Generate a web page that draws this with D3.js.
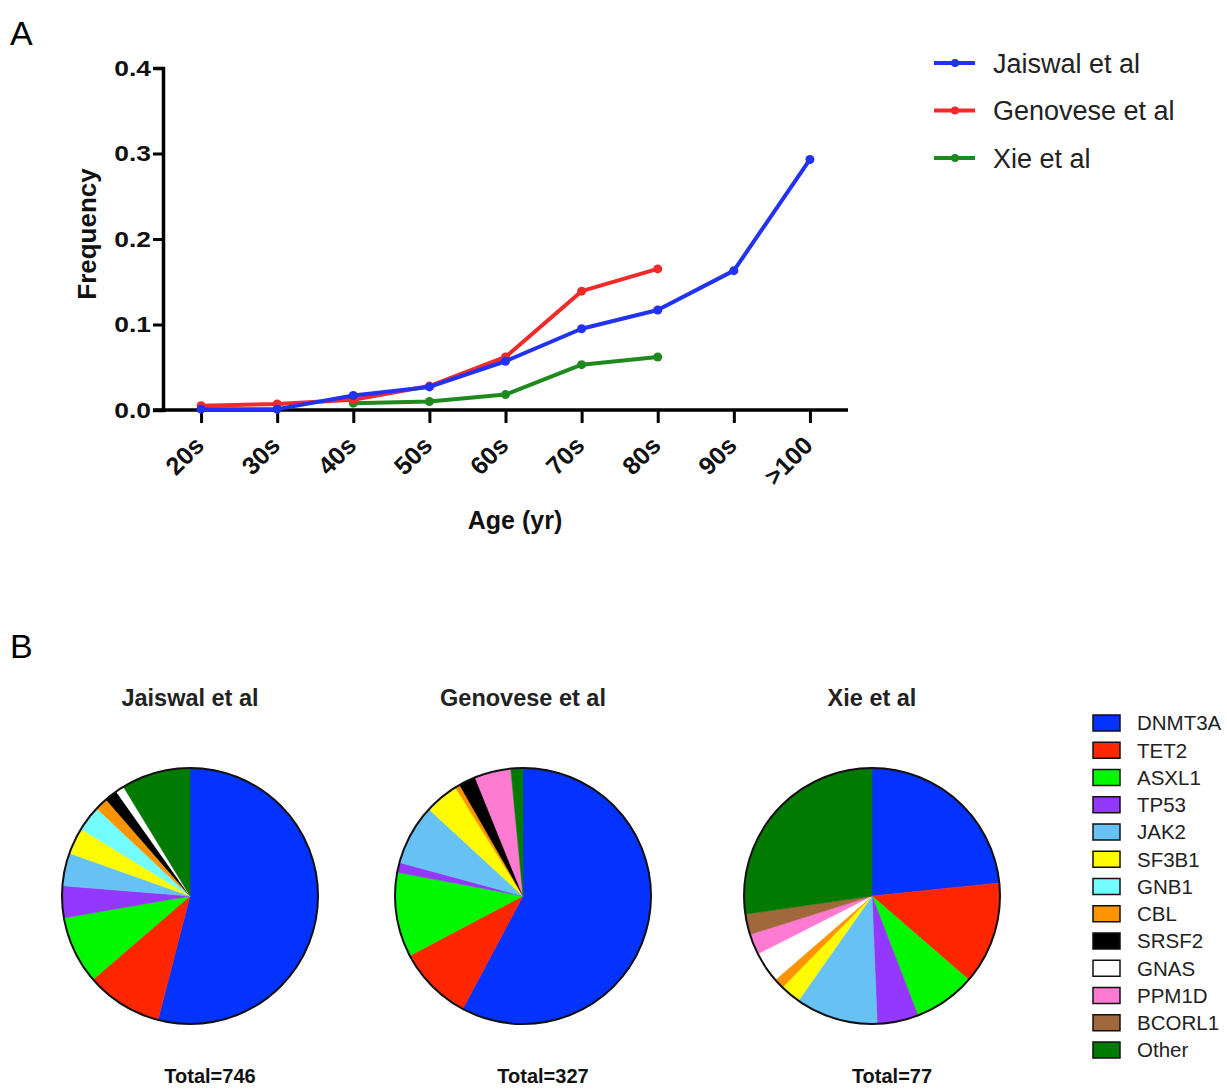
<!DOCTYPE html>
<html>
<head>
<meta charset="utf-8">
<script src="https://cdn.jsdelivr.net/npm/d3@7"></script>
<style>
  body { margin: 0; background: #fff; }
  svg { font-family: 'Liberation Sans', Arial, sans-serif; }
</style>
</head>
<body>
<svg width="1227" height="1090"></svg>
<script>
(function (d3) {
    'use strict';

    // panel A data
    const ageGroups = ['20s', '30s', '40s', '50s', '60s', '70s', '80s', '90s', '>100'];
    const studies = ['Jaiswal et al', 'Genovese et al', 'Xie et al'];
    const jaiswalFreq = [0.001, 0.001, 0.017, 0.027, 0.057, 0.095, 0.117, 0.163, 0.293];
    const genoveseFreq = [0.005, 0.007, 0.012, 0.028, 0.062, 0.139, 0.165, null, null];
    const xieFreq = [null, null, 0.008, 0.010, 0.018, 0.053, 0.062, null, null];
    const yTicks = [0, 0.1, 0.2, 0.3, 0.4];

    // panel B data
    const genes = ['DNMT3A', 'TET2', 'ASXL1', 'TP53', 'JAK2', 'SF3B1', 'GNB1',
                   'CBL', 'SRSF2', 'GNAS', 'PPM1D', 'BCORL1', 'Other'];
    const jaiswalCounts = [403, 72, 64, 30, 31, 25, 24, 12, 12, 8, 0, 0, 65];
    const genoveseCounts = [189, 31, 35, 4, 25, 14, 0, 2, 7, 0, 15, 0, 5];
    const xieCounts = [18, 10, 6, 4, 8, 2, 0, 1, 0, 3, 2, 2, 21];
    const totals = [746, 327, 77];

    const svg = d3.select('svg');

    const lineColors = ['#2232f2', '#f22a2a', '#1e8a1e'];
    const geneColors = ['#0433ff', '#ff2600', '#00f900', '#9437ff', '#66c2f5', '#fffb00',
                        '#73fdff', '#ff9300', '#000000', '#ffffff', '#ff7ad0', '#a0693c', '#007a00'];

    // panel letters
    svg.append('text').attr('x', 10).attr('y', 45)
        .style('font-size', '34px').text('A');
    svg.append('text').attr('x', 10).attr('y', 658)
        .style('font-size', '34px').text('B');

    // ---------- line chart ----------
    const renderLines = () => {
        const left = 163, right = 848, top = 68, bottom = 410;

        const xScale = d3.scalePoint()
            .domain(ageGroups)
            .range([left, right])
            .padding(0.5);

        const yScale = d3.scaleLinear()
            .domain([0, 0.4])
            .range([bottom, top]);

        const g = svg.append('g');

        const yAxis = d3.axisLeft(yScale)
            .tickValues(yTicks)
            .tickFormat(d3.format('.1f'))
            .tickSize(10)
            .tickPadding(2);
        const yG = g.append('g')
            .attr('transform', `translate(${left},0)`)
            .call(yAxis);

        const xAxis = d3.axisBottom(xScale)
            .tickSize(13)
            .tickSizeOuter(0);
        const xG = g.append('g')
            .attr('transform', `translate(0,${bottom})`)
            .call(xAxis);
        xG.select('.domain').attr('d', `M${left - 10},0H${right}`);

        [yG, xG].forEach(a => {
            a.select('.domain').attr('stroke', '#000').attr('stroke-width', 3.5);
            a.selectAll('.tick line').attr('stroke', '#000').attr('stroke-width', 3);
            a.selectAll('.tick text')
                .attr('fill', '#111')
                .style('font-weight', 'bold');
        });

        // y tick labels are a bit wide in the original figure
        yG.selectAll('.tick text')
            .style('font-size', '22px')
            .attr('x', 0)
            .attr('transform', 'translate(-12,0) scale(1.2,1)');

        xG.selectAll('.tick text')
            .style('font-size', '25px')
            .attr('text-anchor', 'end')
            .attr('x', 0).attr('y', 0).attr('dy', '0')
            .attr('transform', 'translate(4,37) rotate(-45)');

        g.append('text')
            .attr('transform', `translate(96,234) rotate(-90)`)
            .attr('text-anchor', 'middle')
            .style('font-size', '26px')
            .style('font-weight', 'bold')
            .attr('fill', '#111')
            .text('Frequency');

        g.append('text')
            .attr('x', 515).attr('y', 529)
            .attr('text-anchor', 'middle')
            .style('font-size', '25px')
            .style('font-weight', 'bold')
            .attr('fill', '#111')
            .text('Age (yr)');

        const seriesList = [jaiswalFreq, genoveseFreq, xieFreq];
        const line = d3.line()
            .defined(d => d.v !== null)
            .x(d => xScale(d.age))
            .y(d => yScale(d.v));

        // draw back-to-front so blue is on top
        [2, 1, 0].forEach(i => {
            const pts = seriesList[i].map((v, j) => ({ age: ageGroups[j], v: v }));
            g.append('path')
                .datum(pts)
                .attr('fill', 'none')
                .attr('stroke', lineColors[i])
                .attr('stroke-width', 4)
                .attr('stroke-linejoin', 'round')
                .attr('d', line);
            g.selectAll(null)
                .data(pts.filter(d => d.v !== null))
                .enter().append('circle')
                .attr('cx', d => xScale(d.age))
                .attr('cy', d => yScale(d.v))
                .attr('r', 4.5)
                .attr('fill', lineColors[i]);
        });

        // legend
        const leg = svg.append('g');
        studies.forEach((s, i) => {
            const y = 63 + i * 47.5;
            leg.append('line')
                .attr('x1', 934).attr('x2', 975)
                .attr('y1', y).attr('y2', y)
                .attr('stroke', lineColors[i]).attr('stroke-width', 4);
            leg.append('circle')
                .attr('cx', 955).attr('cy', y).attr('r', 4)
                .attr('fill', lineColors[i]);
            leg.append('text')
                .attr('x', 993).attr('y', y)
                .attr('dy', '0.36em')
                .style('font-size', '27px')
                .attr('fill', '#222')
                .text(s);
        });
    };

    // ---------- pie charts ----------
    const renderPies = () => {
        const radius = 128;
        const centers = [190, 523, 872];
        const cy = 896;
        const countsList = [jaiswalCounts, genoveseCounts, xieCounts];

        const pie = d3.pie().sort(null).value(d => d.n);
        const arc = d3.arc().innerRadius(0).outerRadius(radius);

        countsList.forEach((counts, k) => {
            const data = counts.map((n, i) => ({ gene: genes[i], n: n, color: geneColors[i] }));
            const g = svg.append('g')
                .attr('transform', `translate(${centers[k]},${cy})`);

            g.selectAll('path')
                .data(pie(data).filter(d => d.data.n > 0))
                .enter().append('path')
                .attr('d', arc)
                .attr('fill', d => d.data.color)
                .attr('stroke', d => d.data.color)
                .attr('stroke-width', 0.5);

            g.append('circle')
                .attr('r', radius)
                .attr('fill', 'none')
                .attr('stroke', '#111')
                .attr('stroke-width', 2);

            svg.append('text')
                .attr('x', centers[k]).attr('y', 706)
                .attr('text-anchor', 'middle')
                .style('font-size', '23.5px')
                .style('font-weight', 'bold')
                .attr('fill', '#222')
                .text(studies[k]);

            svg.append('text')
                .attr('x', centers[k] + 20).attr('y', 1083)
                .attr('text-anchor', 'middle')
                .style('font-size', '20px')
                .style('font-weight', 'bold')
                .attr('fill', '#111')
                .text('Total=' + totals[k]);
        });

        // gene legend
        const leg = svg.append('g');
        genes.forEach((gname, i) => {
            const y = 723 + i * 27.25;
            leg.append('rect')
                .attr('x', 1093).attr('y', y - 8)
                .attr('width', 27).attr('height', 16)
                .attr('fill', geneColors[i])
                .attr('stroke', '#111').attr('stroke-width', 1.5);
            leg.append('text')
                .attr('x', 1137).attr('y', y)
                .attr('dy', '0.36em')
                .style('font-size', '20.5px')
                .attr('fill', '#222')
                .text(gname);
        });
    };

    renderLines();
    renderPies();
}(d3));
</script>
</body>
</html>
